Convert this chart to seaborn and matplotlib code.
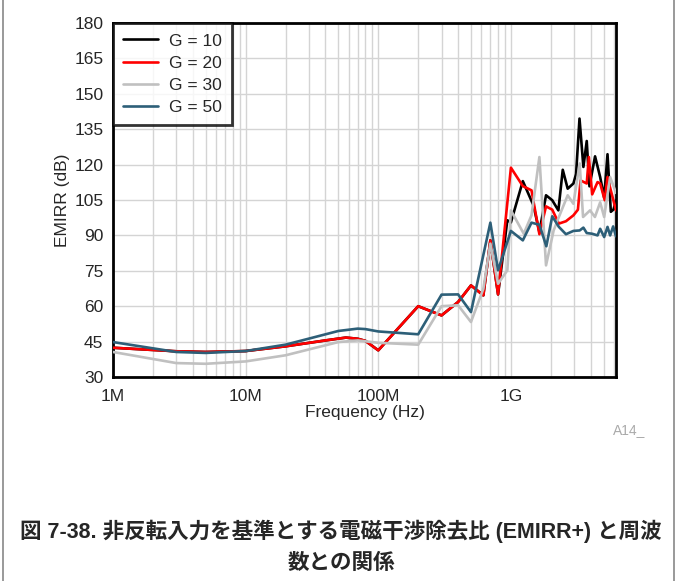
import numpy as np
import pandas as pd
import matplotlib
matplotlib.use("Agg")
import matplotlib.pyplot as plt
import matplotlib.ticker as mticker
from matplotlib.lines import Line2D
import seaborn as sns

# ---------------- data ----------------
freq_g10 = [1e6, 3e6, 5e6, 10e6, 20e6, 40e6, 57e6, 70e6, 80e6, 100e6, 200e6, 300e6, 400e6,
            500e6, 620e6, 700e6, 800e6, 0.94e9, 1.0e9, 1.23e9, 1.48e9, 1.64e9, 1.84e9, 2.05e9,
            2.28e9, 2.46e9, 2.68e9, 2.96e9, 3.1e9, 3.29e9, 3.52e9, 3.73e9, 3.91e9, 4.31e9,
            4.71e9, 5.05e9, 5.35e9, 5.67e9, 5.94e9, 6.2e9]
emirr_g10 = [42.4, 40.9, 40.6, 41.0, 43.0, 45.5, 46.7, 46.2, 45.3, 41.3, 60.0, 56.1, 61.8,
             68.8, 64.6, 87.9, 65.0, 96.4, 95.5, 113.0, 102.7, 91.4, 107.0, 104.9,
             100.6, 117.8, 109.8, 112.0, 116.0, 139.5, 119.0, 130.0, 110.8, 123.5,
             114.7, 106.0, 124.4, 100.0, 101.0, 104.9]

freq_g20 = [1e6, 3e6, 5e6, 10e6, 20e6, 40e6, 57e6, 70e6, 80e6, 100e6, 200e6, 300e6, 400e6,
            500e6, 620e6, 700e6, 800e6, 1.0e9, 1.23e9, 1.43e9, 1.64e9, 1.84e9, 2.05e9, 2.3e9,
            2.6e9, 2.96e9, 3.2e9, 3.35e9, 3.73e9, 3.87e9, 4.1e9, 4.5e9, 4.71e9, 5.1e9,
            5.35e9, 5.67e9, 6.2e9]
emirr_g20 = [42.4, 40.9, 40.6, 41.0, 43.0, 45.5, 46.7, 46.2, 45.3, 41.3, 60.0, 56.1, 61.8,
             68.8, 64.6, 87.9, 65.0, 118.7, 110.9, 109.1, 90.5, 102.3, 100.9, 95.0,
             96.0, 98.5, 100.9, 113.3, 112.0, 123.2, 107.4, 112.6, 112.0, 104.9,
             114.7, 109.0, 100.6]

freq_g30 = [1e6, 3e6, 5e6, 10e6, 20e6, 50e6, 70e6, 100e6, 200e6, 300e6, 400e6, 500e6,
            620e6, 700e6, 800e6, 0.94e9, 1.0e9, 1.25e9, 1.43e9, 1.64e9, 1.84e9, 2.1e9, 2.3e9,
            2.68e9, 2.96e9, 3.3e9, 3.5e9, 3.95e9, 4.3e9, 4.71e9, 5.05e9, 5.6e9, 6.2e9]
emirr_g30 = [40.6, 35.9, 35.6, 36.6, 39.2, 44.8, 45.5, 44.5, 43.7, 60.0, 60.4, 53.3,
             67.4, 86.5, 69.5, 75.2, 100.6, 90.7, 98.5, 123.2, 77.3, 92.1, 97.8,
             107.0, 103.4, 120.5, 97.8, 100.6, 97.8, 104.0, 97.8, 114.7, 108.0]

freq_g50 = [1e6, 3e6, 5e6, 10e6, 20e6, 50e6, 70e6, 80e6, 100e6, 200e6, 300e6, 400e6,
            500e6, 700e6, 800e6, 1.0e9, 1.23e9, 1.43e9, 1.64e9, 1.85e9, 2.05e9, 2.3e9,
            2.6e9, 2.96e9, 3.3e9, 3.52e9, 3.73e9, 4.1e9, 4.5e9, 4.71e9, 5.05e9, 5.35e9,
            5.6e9, 5.9e9, 6.2e9]
emirr_g50 = [44.8, 40.6, 40.2, 41.0, 43.7, 49.5, 50.5, 50.3, 49.3, 48.1, 64.9, 65.0,
             57.5, 95.4, 75.2, 91.9, 87.9, 95.4, 94.5, 85.4, 98.1, 93.6,
             90.5, 91.9, 92.1, 93.3, 91.0, 90.7, 90.0, 92.8, 89.3, 93.6,
             90.0, 93.8, 89.6]

series_labels = ["G = 10", "G = 20", "G = 30", "G = 50"]
series_colors = ["#000000", "#ff0000", "#c0c0c0", "#2d5f78"]
y_ticks = [30, 45, 60, 75, 90, 105, 120, 135, 150, 165, 180]
x_ticks = [1e6, 1e7, 1e8, 1e9]
x_tick_labels = ["1M", "10M", "100M", "1G"]

# ---------------- build long-form table ----------------
frames = []
for lab, f, v in zip(series_labels,
                     [freq_g10, freq_g20, freq_g30, freq_g50],
                     [emirr_g10, emirr_g20, emirr_g30, emirr_g50]):
    frames.append(pd.DataFrame({"freq": f, "emirr": v, "G": lab}))
df = pd.concat(frames, ignore_index=True)

# ---------------- figure ----------------
sns.set_style("white")
plt.rcParams["font.family"] = ["Liberation Sans", "DejaVu Sans"]

fig = plt.figure(figsize=(6.78, 5.81), dpi=100)
ax = fig.add_axes([113 / 678, 1 - 377 / 581, (616 - 113) / 678, (377 - 23) / 581])

sns.lineplot(data=df, x="freq", y="emirr", hue="G", hue_order=series_labels,
             palette=dict(zip(series_labels, series_colors)), sort=False,
             estimator=None, linewidth=1.9, ax=ax, legend=False, zorder=3)

ax.set_xscale("log")
ax.set_xlim(1e6, 6.2e9)
ax.set_ylim(30, 180)
ax.set_yticks(y_ticks)
ax.set_xticks(x_ticks)
ax.set_xticklabels(x_tick_labels)
ax.xaxis.set_minor_locator(mticker.LogLocator(base=10, subs=np.arange(2, 10), numticks=50))
ax.xaxis.set_minor_formatter(mticker.NullFormatter())

ax.grid(True, which="major", axis="both", color="#d4d4d4", linewidth=1.0, zorder=0)
ax.grid(True, which="minor", axis="x", color="#d4d4d4", linewidth=1.0, zorder=0)
ax.set_axisbelow(True)

ax.tick_params(axis="both", which="both", length=0, labelsize=12.5)
ax.tick_params(axis="x", pad=8.5)
ax.tick_params(axis="y", pad=7)
for sp in ax.spines.values():
    sp.set_color("black")
    sp.set_linewidth(2.0)

ax.set_xlabel("Frequency (Hz)", fontsize=12.5, labelpad=1)
ax.set_ylabel("EMIRR (dB)", fontsize=12.5, labelpad=3)

handles = [Line2D([0], [0], color=c, lw=1.9) for c in series_colors]
leg = ax.legend(handles, series_labels, loc="upper left", fontsize=12.5,
                frameon=True, fancybox=False, edgecolor="black",
                borderaxespad=0, handlelength=2.0, handletextpad=0.6,
                labelspacing=0.4, borderpad=0.6)
leg.get_frame().set_linewidth(2.0)
leg.set_zorder(5)

fig.text(629 / 678, 1 - 430 / 581, "A14_", color="#aaaaaa", fontsize=10,
         ha="center", va="center")

cap_font = ["Liberation Sans", "Noto Sans CJK JP", "DejaVu Sans"]
fig.text(341 / 678, 1 - 531 / 581,
         "図 7-38. 非反転入力を基準とする電磁干渉除去比 (EMIRR+) と周波",
         ha="center", va="center", fontsize=15.5, fontweight="bold",
         family=cap_font)
fig.text(341 / 678, 1 - 563 / 581, "数との関係",
         ha="center", va="center", fontsize=15.5, fontweight="bold",
         family=cap_font)

# page frame lines
fig.add_artist(Line2D([2.5 / 678, 2.5 / 678], [0, 1], color="#888888", lw=1.2,
                      transform=fig.transFigure))
fig.add_artist(Line2D([674 / 678, 674 / 678], [0, 1], color="#888888", lw=1.2,
                      transform=fig.transFigure))

fig.savefig("out.png", dpi=100, facecolor="white")
